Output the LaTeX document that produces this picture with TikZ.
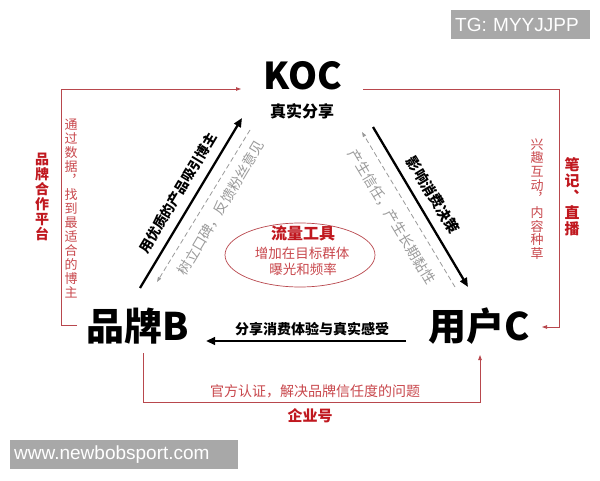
\documentclass[tikz,border=0pt]{standalone}
\usepackage{fontspec}
\setmainfont{Liberation Sans}
\newfontfamily\cjk{Noto Sans CJK SC}
\usetikzlibrary{arrows.meta,shapes.geometric}
\definecolor{redb}{HTML}{C0181F}
\definecolor{redl}{HTML}{C8474C}
\definecolor{redline}{HTML}{B8474D}
\definecolor{grayt}{HTML}{9A9A9A}
\definecolor{wbox}{HTML}{A8A8A8}
\begin{document}
\begin{tikzpicture}[x=1pt,y=1pt,
  bigt/.style={font=\cjk\bfseries\fontsize{38}{40}\selectfont, inner sep=0},
  boldt/.style={font=\cjk\bfseries\fontsize{#1}{#1}\selectfont, inner sep=0},
  lightt/.style={font=\cjk\fontsize{#1}{#1}\selectfont, inner sep=0},
  vtext/.style 2 args={font=\cjk\fontsize{#1}{#2}\selectfont, inner sep=0, align=center},
  vbold/.style 2 args={font=\cjk\bfseries\fontsize{#1}{#2}\selectfont, inner sep=0, align=center},
  blackarrow/.style={line width=2.3pt, -{Triangle[length=9pt,width=7.5pt]}},
  grayarrow/.style={grayt, line width=0.8pt, dash pattern=on 5pt off 3pt, -{Triangle[length=5pt,width=3.5pt]}},
  redarrow/.style={redline, line width=0.8pt, -{Triangle[length=5pt,width=3.5pt]}},
  graybox/.style={fill=wbox, text=white, font=\fontsize{19}{20}\selectfont, minimum height=29pt, inner xsep=4pt, inner ysep=0pt, align=left}
]
\useasboundingbox (0,0) rectangle (600,480);

% watermark boxes
\node[graybox, anchor=north west, text width=131pt] (tg) at (451,470) {TG: MYYJJPP};
\node[graybox, anchor=south west, text width=220pt] (www) at (10,11) {www.newbobsport.com};

% main nodes
\node[font=\cjk\bfseries\fontsize{37}{40}\selectfont, inner sep=0] (K) at (303,404) {KOC};
\node[boldt=16] (Ks) at (302,369) {真实分享};
\node[bigt] (B) at (138,154) {品牌B};
\node[bigt] (C) at (479,154) {用户C};

% ellipse
\node[draw=redline, line width=0.7pt, ellipse, minimum width=150pt, minimum height=64pt, inner sep=0] (E) at (300,225) {};
\node[boldt=16, text=redb] (E1) at (303,247) {流量工具};
\node[lightt=13.5, text=redl] (E2) at (302,227) {增加在目标群体};
\node[lightt=13.5, text=redl] (E3) at (303,211) {曝光和频率};

% black arrows
\coordinate (bl1) at (140,192); \coordinate (bl2) at (242,362);
\draw[blackarrow] (bl1) -- (bl2);
\node[boldt=13.7, rotate=59] (t1) at (178,287) {用优质的产品吸引博主};
\coordinate (gl1) at (250,350); \coordinate (gl2) at (157,198);
\draw[grayarrow] (gl1) -- (gl2);
\node[lightt=14, text=grayt, rotate=59] (t2) at (221,272) {树立口碑，反馈粉丝意见};

\coordinate (br1) at (373,353); \coordinate (br2) at (468,193);
\draw[blackarrow] (br1) -- (br2);
\node[boldt=14.5, rotate=-59] (t3) at (433,285) {影响消费决策};
\coordinate (gr1) at (455,193); \coordinate (gr2) at (362,348);
\draw[grayarrow] (gr1) -- (gr2);
\node[lightt=14, text=grayt, rotate=-59] (t4) at (392,263) {产生信任，产生长期黏性};

\coordinate (bc1) at (406,139); \coordinate (bc2) at (206,139);
\draw[blackarrow] (bc1) -- (bc2);
\node[boldt=14] (t5) at (312,151) {分享消费体验与真实感受};

% red connectors
\coordinate (la) at (77,155); \coordinate (lb) at (61,155); \coordinate (lc) at (61,391); \coordinate (ld) at (241,391);
\draw[redarrow] (la) -- (lb) -- (lc) -- (ld);
\coordinate (ra) at (363,391); \coordinate (rb) at (559,391); \coordinate (rc) at (559,153); \coordinate (rd) at (542,153);
\draw[redarrow] (ra) -- (rb) -- (rc) -- (rd);
\coordinate (ba) at (143,127); \coordinate (bb) at (143,78); \coordinate (bc) at (480,78); \coordinate (bd) at (480,125);
\draw[redarrow] (ba) -- (bb) -- (bc) -- (bd);

% red labels
\node[vbold={14}{15}, text=redb] (v1) at (42,283) {品\\牌\\合\\作\\平\\台};
\node[vtext={13}{14}, text=redl] (v2) at (71,271) {通\\过\\数\\据\\︐\\找\\到\\最\\适\\合\\的\\博\\主};
\node[vtext={13}{13.7}, text=redl] (v3) at (537,281) {兴\\趣\\互\\动\\︐\\内\\容\\种\\草};
\node[vbold={15}{16}, text=redb] (v4) at (572,283) {笔\\记\\︑\\直\\播};
\node[lightt=14, text=redl] (b1) at (315,89) {官方认证，解决品牌信任度的问题};
\node[boldt=15, text=redb] (b2) at (310,64) {企业号};
\end{tikzpicture}
\end{document}
